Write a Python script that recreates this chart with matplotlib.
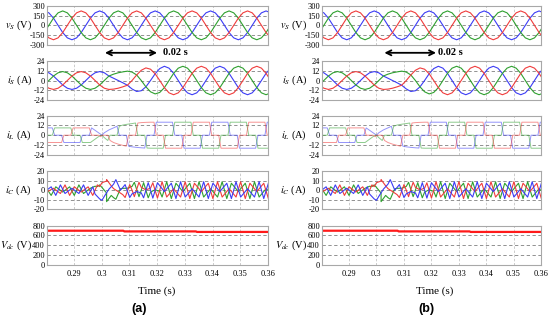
import numpy as np
import matplotlib.pyplot as plt

plt.rcParams["font.family"] = ["Liberation Serif", "DejaVu Serif"]
plt.rcParams["mathtext.fontset"] = "stix"
plt.rcParams["axes.unicode_minus"] = False

# sample index k -> time T0 + k*DT  (one step = 30 deg of the 50 Hz grid)
T0 = 0.2793
DT = 1 / 600

k_s = np.arange(50)

# grid voltages (V), k = 0..49
vs_b = [220, 191, 110, 0, -110, -191, -220, -191, -110, 0, 110, 191,
        220, 191, 110, 0, -110, -191, -220, -191, -110, 0, 110, 191,
        220, 191, 110, 0, -110, -191, -220, -191, -110, 0, 110, 191,
        220, 191, 110, 0, -110, -191, -220, -191, -110, 0, 110, 191,
        220, 191]
vs_g = [-110, 0, 110, 191, 220, 191, 110, 0, -110, -191, -220, -191,
        -110, 0, 110, 191, 220, 191, 110, 0, -110, -191, -220, -191,
        -110, 0, 110, 191, 220, 191, 110, 0, -110, -191, -220, -191,
        -110, 0, 110, 191, 220, 191, 110, 0, -110, -191, -220, -191,
        -110, 0]
vs_r = [-110, -191, -220, -191, -110, 0, 110, 191, 220, 191, 110, 0,
        -110, -191, -220, -191, -110, 0, 110, 191, 220, 191, 110, 0,
        -110, -191, -220, -191, -110, 0, 110, 191, 220, 191, 110, 0,
        -110, -191, -220, -191, -110, 0, 110, 191, 220, 191, 110, 0,
        -110, -191]

# source currents (A), k = 0..49
is_b = [11, 9.5, 5.5, 0, -5.5, -9.5, -11, -9.5, -5.5, 0, 5.5, 9.5, 11, 9.5, 5.5,
        2.8, 0, -2.8, -5.8, -10.4, -13.5, -12.6, -7.8, 0, 8.3, 14.7,
        17.5, 15.2, 8.8, 0, -8.8, -15.2, -17.5, -15.2, -8.8, 0, 8.8, 15.2,
        17.5, 15.2, 8.8, 0, -8.8, -15.2, -17.5, -15.2, -8.8, 0, 8.8, 15.2]
is_g = [-5.5, 0, 5.5, 9.5, 11, 9.5, 5.5, 0, -5.5, -9.5, -11, -9.5, -5.5, 0, 5.5,
        7.8, 9.5, 10.6, 11.5, 10.4, 6.8, 0, -7.8, -13.9, -16.5, -14.7,
        -8.8, 0, 8.8, 15.2, 17.5, 15.2, 8.8, 0, -8.8, -15.2, -17.5, -15.2,
        -8.8, 0, 8.8, 15.2, 17.5, 15.2, 8.8, 0, -8.8, -15.2, -17.5, -15.2]
is_r = [-5.5, -9.5, -11, -9.5, -5.5, 0, 5.5, 9.5, 11, 9.5, 5.5, 0, -5.5, -9.5, -11,
        -10.6, -9.5, -7.8, -5.8, 0, 6.8, 12.6, 15.5, 13.9, 8.3, 0,
        -8.8, -15.2, -17.5, -15.2, -8.8, 0, 8.8, 15.2, 17.5, 15.2, 8.8, 0,
        -8.8, -15.2, -17.5, -15.2, -8.8, 0, 8.8, 15.2, 17.5, 15.2, 8.8, 0]

# load currents (A): knots in k units, a repeated k is a step
iL_b_k = [0, 2, 2, 4, 4, 8, 8, 10, 10, 12.5, 13, 14, 15, 16, 16, 18, 18, 19, 20, 21,
          22, 22, 24, 24, 28, 28, 30, 30, 34, 34, 36, 36, 40, 40, 42, 42, 46, 46, 48, 48, 50]
iL_b = [9, 9, 0, 0, -9, -9, 0, 0, 9, 0, 3, 6.5, 9, 11, 0, 0, -13.5, -14.3, -15, -15.5,
        -15.8, 0, 0, 16, 16, 0, 0, -16, -16, 0, 0, 16, 16, 0, 0, -16, -16, 0, 0, 16, 16]
iL_g_k = [0, 2, 2, 6, 6, 8, 8, 10, 12, 12, 12.5, 13, 14, 14, 16, 16, 17, 18, 19, 20,
          20, 22, 22, 23, 26, 26, 28, 28, 32, 32, 34, 34, 38, 38, 40, 40, 44, 44, 46, 46, 50]
iL_g = [0, 0, 9, 9, 0, 0, -9, -9, -1.8, 0, 0, -3, -6.5, 0, 0, 11, 12.5, 13.5, 14.3, 15,
        0, 0, -15.8, -16, -16, 0, 0, 16, 16, 0, 0, -16, -16, 0, 0, 16, 16, 0, 0, -16, -16]
iL_r_k = [0, 4, 4, 6, 6, 10, 10, 12, 12, 12.5, 14, 14, 15, 16, 17, 18, 18, 20, 20, 21,
          22, 23, 24, 24, 26, 26, 30, 30, 32, 32, 36, 36, 38, 38, 42, 42, 44, 44, 48, 48, 50]
iL_r = [-9, -9, 0, 0, 9, 9, 0, 0, -1.8, 0, 0, -6.5, -9, -11, -12.5, -13.5, 0, 0, 15, 15.5,
        15.8, 16, 16, 0, 0, -16, -16, 0, 0, 16, 16, 0, 0, -16, -16, 0, 0, 16, 16, 0, 0]

# filter currents (A)
iC_b_k = [0, 2, 2, 4, 4, 6, 8, 8, 10, 10, 11, 12, 12.5, 13, 14, 15, 16, 16, 17, 18,
          18, 19, 20, 21, 22, 22, 23, 24, 24, 26, 28, 28, 30, 30, 32, 34, 34, 36, 36, 38,
          40, 40, 42, 42, 44, 46, 46, 48, 48, 50]
iC_b = [-2, 3.5, -5.5, 5.5, -3.5, 2, -3.5, 5.5, -5.5, 3.5, -4.1, -9.2, -10.6, -6.5, 1, 6.2, 11, 0, 2.8, 5.8,
        -7.7, -3.9, -1.5, -2.9, -8, 7.8, 0, -8.3, 7.7, -1.5, 7.2, -8.8, 8.8, -7.2, 1.5, -7.2, 8.8, -8.8, 7.2, -1.5,
        7.2, -8.8, 8.8, -7.2, 1.5, -7.2, 8.8, -8.8, 7.2, -1.5]
iC_g_k = [0, 2, 2, 4, 6, 6, 8, 8, 10, 11, 12, 12, 12.5, 13, 14, 14, 15, 16, 16, 17,
          18, 19, 20, 20, 21, 22, 22, 23, 24, 25, 26, 26, 28, 28, 30, 32, 32, 34, 34, 36,
          38, 38, 40, 40, 42, 44, 44, 46, 46, 48, 50]
iC_g = [5.5, -5.5, 3.5, -2, 3.5, -5.5, 5.5, -3.5, 2, 4.1, 3.7, 5.5, 2.8, -3, -12, -5.5, -7.8, -9.5, 1.5, 1.9,
        2, 3.9, 8.2, -6.8, 0, 7.8, -8, -2.1, 0.5, -1.3, -7.2, 8.8, -8.8, 7.2, -1.5, 7.2, -8.8, 8.8, -7.2, 1.5,
        -7.2, 8.8, -8.8, 7.2, -1.5, 7.2, -8.8, 8.8, -7.2, 1.5, -7.2]
iC_r_k = [0, 2, 4, 4, 6, 6, 8, 10, 10, 11, 12, 12, 12.5, 13, 14, 14, 15, 16, 17, 18,
          18, 19, 20, 20, 21, 22, 23, 24, 24, 25, 26, 26, 28, 30, 30, 32, 32, 34, 36, 36,
          38, 38, 40, 42, 42, 44, 44, 46, 48, 48, 50]
iC_r = [-3.5, 2, -3.5, 5.5, -5.5, 3.5, -2, 3.5, -5.5, 0, 5.5, 3.7, 7.8, 9.5, 11, 4.5, 1.6, -1.5, -4.7, -7.7,
        5.8, 0, -6.8, 8.2, 2.9, 0.3, 2.1, 7.7, -8.3, 0, 8.8, -7.2, 1.5, -7.2, 8.8, -8.8, 7.2, -1.5, 7.2, -8.8,
        8.8, -7.2, 1.5, -7.2, 8.8, -8.8, 7.2, -1.5, 7.2, -8.8, 8.8]

# dc-link voltage (V)
vdc_t = [0.2793, 0.3078, 0.3082, 0.3340, 0.3344, 0.3610]
vdc = [697, 697, 683, 683, 672, 672]

xticks = [0.29, 0.30, 0.31, 0.32, 0.33, 0.34, 0.35, 0.36]
xtick_labels = ["0.29", "0.3", "0.31", "0.32", "0.33", "0.34", "0.35", "0.36"]

RED, GREEN, BLUE = "#f03c3c", "#2fa02f", "#3c3cf5"


def knots(k, ramp):
    # spread each repeated knot so a step is drawn as a steep edge
    k = np.array(k, float)
    for i in range(len(k) - 1):
        if k[i] == k[i + 1]:
            k[i] -= ramp
            k[i + 1] += ramp
    return T0 + k * DT


t_s = T0 + k_s * DT

W, H = 550, 324
fig = plt.figure(figsize=(5.5, 3.24), dpi=100)

cols = [
    dict(left=47, right=268, lab_x=32, name="(a)", name_x=139.5, time_x=157, arr=(0.3012, 0.3200), arr_txt=163),
    dict(left=322, right=541, lab_x=307, name="(b)", name_x=426, time_x=435, arr=(0.3030, 0.3218), arr_txt=438),
]
rows = [(5.7, 45.0), (61.0, 100.0), (115.7, 154.7), (171.0, 209.3), (225.7, 264.7)]
labels = [r"$v_S$ (V)", r"$i_S$ (A)", r"$i_L$ (A)", r"$i_C$ (A)", r"$V_{dc}$ (V)"]
ylims = [(-300, 300), (-24, 24), (-24, 24), (-20, 20), (0, 800)]
yticks = [[-300, -150, 0, 150, 300], [-24, -12, 0, 12, 24], [-24, -12, 0, 12, 24],
          [-20, -10, 0, 10, 20], [0, 200, 400, 600, 800]]

for c in cols:
    axs = []
    for i, (top, bot) in enumerate(rows):
        ax = fig.add_axes([c["left"] / W, 1 - bot / H, (c["right"] - c["left"]) / W, (bot - top) / H])
        ax.set_xlim(0.2803, 0.36)
        ax.set_ylim(*ylims[i])
        ax.set_yticks(yticks[i])
        ax.set_xticks(xticks)
        ax.yaxis.grid(True, ls=(0, (4, 3)), color="#808080", lw=0.6)
        ax.xaxis.grid(True, ls=(0, (3, 2)), color="#c4c4c4", lw=0.6)
        ax.set_axisbelow(True)
        for s in ax.spines.values():
            s.set_color("#a8a8a8")
            s.set_linewidth(0.8)
        ax.tick_params(length=0, pad=1.5, labelsize=6)
        if i < 4:
            ax.set_xticklabels([])
        else:
            ax.set_xticklabels(xtick_labels)
            ax.tick_params(axis="x", pad=4)
        fig.text(c["lab_x"] / W, 1 - (top + bot) / 2 / H, labels[i], ha="right", va="center", fontsize=7.5)
        axs.append(ax)

    axs[0].plot(t_s, vs_b, color=BLUE, lw=0.8)
    axs[0].plot(t_s, vs_g, color=GREEN, lw=0.8)
    axs[0].plot(t_s, vs_r, color=RED, lw=0.8)

    axs[1].plot(t_s, is_b, color=BLUE, lw=0.8)
    axs[1].plot(t_s, is_g, color=GREEN, lw=0.8)
    axs[1].plot(t_s, is_r, color=RED, lw=0.8)

    axs[2].plot(knots(iL_b_k, 0.25), iL_b, color=BLUE, lw=0.7, alpha=0.55)
    axs[2].plot(knots(iL_g_k, 0.25), iL_g, color=GREEN, lw=0.7, alpha=0.55)
    axs[2].plot(knots(iL_r_k, 0.25), iL_r, color=RED, lw=0.7, alpha=0.55)

    axs[3].plot(knots(iC_g_k, 0.5), iC_g, color=GREEN, lw=0.8)
    axs[3].plot(knots(iC_r_k, 0.5), iC_r, color=RED, lw=0.8)
    axs[3].plot(knots(iC_b_k, 0.5), iC_b, color=BLUE, lw=0.8)

    axs[4].plot(vdc_t, vdc, color="#ff1a1a", lw=1.6)

    axs[1].annotate("", xy=(c["arr"][1], 1.21), xytext=(c["arr"][0], 1.21),
                    xycoords=axs[1].get_xaxis_transform(), annotation_clip=False,
                    arrowprops=dict(arrowstyle="<->", lw=1.3, color="black", mutation_scale=9,
                                    shrinkA=0, shrinkB=0))
    fig.text(c["arr_txt"] / W, 1 - 52.7 / H, "0.02 s", ha="left", va="center", fontsize=7.5, fontweight="bold")
    fig.text(c["time_x"] / W, 1 - 291 / H, "Time (s)", ha="center", va="center", fontsize=8)
    fig.text(c["name_x"] / W, 1 - 309 / H, c["name"], ha="center", va="center", fontsize=9,
             fontweight="bold", family="Liberation Sans")

fig.savefig("out.png", dpi=100)
